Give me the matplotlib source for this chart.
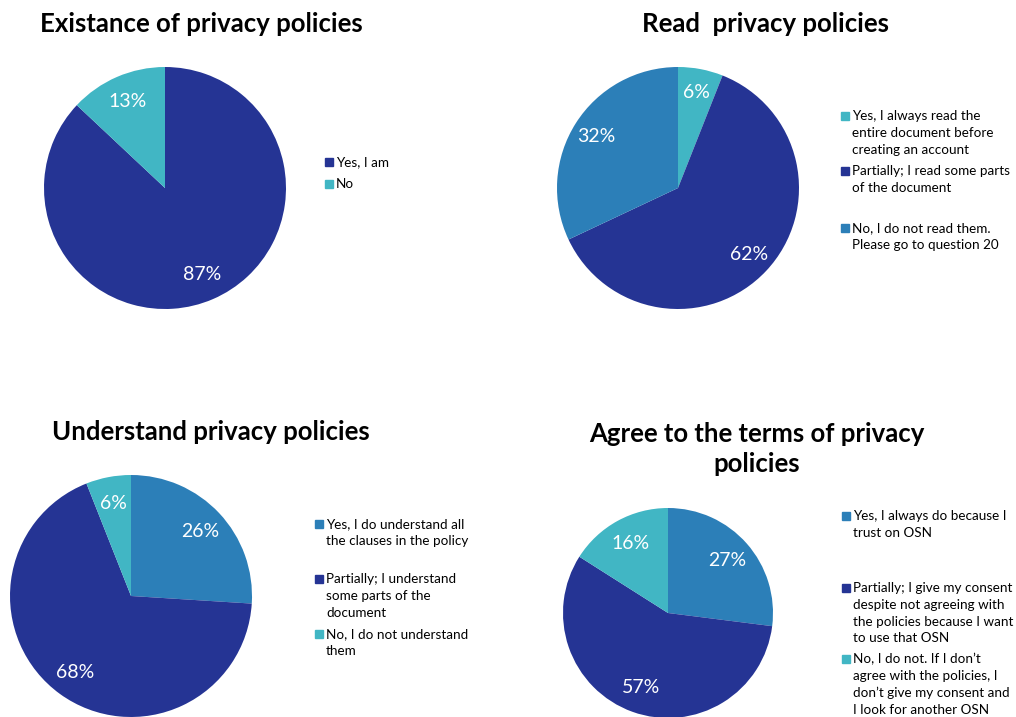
import matplotlib
matplotlib.use("Agg")
import matplotlib.pyplot as plt
from matplotlib.patches import Rectangle

plt.rcParams['font.family'] = ['Lato', 'DejaVu Sans']

DARK = '#253494'
TEAL = '#41b6c4'
MID = '#2c7fb8'

titles = ['Existance of privacy policies', 'Read  privacy policies',
          'Understand privacy policies', 'Agree to the terms of privacy\npolicies']

labels_1 = ['Yes, I am', 'No']
values_1 = [87, 13]
colors_1 = [DARK, TEAL]

labels_2 = ['Yes, I always read the\nentire document before\ncreating an account',
            'Partially; I read some parts\nof the document',
            'No, I do not read them.\nPlease go to question 20']
values_2 = [6, 62, 32]
colors_2 = [TEAL, DARK, MID]

labels_3 = ['Yes, I do understand all\nthe clauses in the policy',
            'Partially; I understand\nsome parts of the\ndocument',
            'No, I do not understand\nthem']
values_3 = [26, 68, 6]
colors_3 = [MID, DARK, TEAL]

labels_4 = ['Yes, I always do because I\ntrust on OSN',
            'Partially; I give my consent\ndespite not agreeing with\nthe policies because I want\nto use that OSN',
            'No, I do not. If I don\u2019t\nagree with the policies, I\ndon\u2019t give my consent and\nI look for another OSN']
values_4 = [27, 57, 16]
colors_4 = [MID, DARK, TEAL]

W, H = 1016, 717
fig = plt.figure(figsize=(W / 100, H / 100), dpi=100)


def px(x, y):
    # pixel position (top-left origin) -> figure fraction
    return x / W, 1 - y / H


def draw_pie(values, colors, labels, cx, cy, r, pctd, title, title_xy, legend_x, legend_ys):
    ax = fig.add_axes([(cx - r) / W, (H - cy - r) / H, 2 * r / W, 2 * r / H])
    ax.pie(values, colors=colors, startangle=90, counterclock=False,
           autopct='%d%%', pctdistance=pctd, radius=1,
           textprops=dict(color='white', fontsize=14))
    ax.set_xlim(-1, 1)
    ax.set_ylim(-1, 1)
    ax.set_aspect('auto')
    ax.axis('off')
    tx, ty = px(*title_xy)
    fig.text(tx, ty, title, ha='center', va='center', fontsize=18.5, fontweight='bold',
             linespacing=1.3)
    # legend: small square next to the first line of each label
    s = 8
    for c, lab, ly in zip(colors, labels, legend_ys):
        x0, y0 = px(legend_x, ly + s / 2)
        fig.patches.append(Rectangle((x0, y0), s / W, s / H, color=c,
                                     transform=fig.transFigure, figure=fig))
        tx, ty = px(legend_x + s + 3, ly - 6)
        fig.text(tx, ty, lab, ha='left', va='top', fontsize=9.7, linespacing=1.48)


draw_pie(values_1, colors_1, labels_1, 165, 188, 121, 0.78, titles[0], (201, 24),
         325, [162, 184])
draw_pie(values_2, colors_2, labels_2, 678, 188, 121, 0.80, titles[1], (765, 24),
         841, [116, 171, 228])
draw_pie(values_3, colors_3, labels_3, 131, 596, 121, 0.78, titles[2], (211, 432),
         315, [524, 579, 634])
draw_pie(values_4, colors_4, labels_4, 668, 613, 105, 0.75, titles[3], (757, 449),
         842, [516, 588, 659])

fig.savefig('out.png', dpi=100)
